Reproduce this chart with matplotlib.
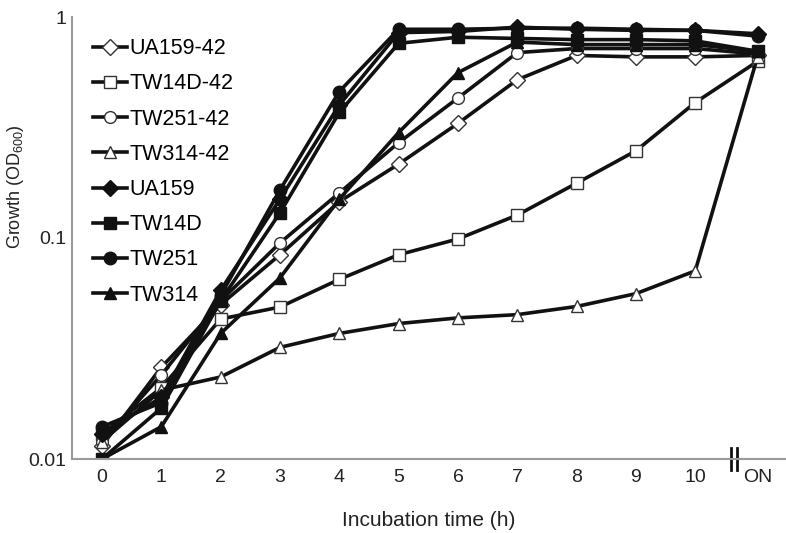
import numpy as np
import matplotlib
matplotlib.use("Agg")
import matplotlib.pyplot as plt
import matplotlib.transforms as mtransforms

plt.rcParams['font.family'] = ['Liberation Sans', 'DejaVu Sans']
plt.rcParams['mathtext.fontset'] = 'custom'
plt.rcParams['mathtext.rm'] = 'Liberation Sans'

# sampling times (h), last point is the overnight culture
x_labels = ['0', '1', '2', '3', '4', '5', '6', '7', '8', '9', '10', 'ON']

# OD600 readings
ua159_42 = [0.0115, 0.026, 0.050, 0.084, 0.146, 0.216, 0.33, 0.52, 0.67, 0.66, 0.66, 0.67]
tw14d_42 = [0.013, 0.021, 0.043, 0.0487, 0.065, 0.084, 0.099, 0.127, 0.177, 0.248, 0.41, 0.63]
tw251_42 = [0.012, 0.024, 0.052, 0.095, 0.16, 0.27, 0.43, 0.69, 0.72, 0.72, 0.72, 0.68]
tw314_42 = [0.012, 0.0205, 0.0235, 0.032, 0.037, 0.041, 0.0435, 0.045, 0.049, 0.056, 0.071, 0.66]
ua159 = [0.013, 0.019, 0.058, 0.15, 0.40, 0.85, 0.86, 0.90, 0.88, 0.87, 0.87, 0.84]
tw14d = [0.010, 0.017, 0.052, 0.13, 0.37, 0.76, 0.81, 0.80, 0.79, 0.79, 0.78, 0.70]
tw251 = [0.014, 0.018, 0.055, 0.165, 0.46, 0.88, 0.88, 0.89, 0.89, 0.88, 0.87, 0.82]
tw314 = [0.010, 0.014, 0.037, 0.066, 0.15, 0.30, 0.56, 0.77, 0.75, 0.75, 0.75, 0.70]

series = [
    ('UA159-42', ua159_42, 'D', 'white'),
    ('TW14D-42', tw14d_42, 's', 'white'),
    ('TW251-42', tw251_42, 'o', 'white'),
    ('TW314-42', tw314_42, '^', 'white'),
    ('UA159', ua159, 'D', 'black'),
    ('TW14D', tw14d, 's', 'black'),
    ('TW251', tw251, 'o', 'black'),
    ('TW314', tw314, '^', 'black'),
]

# x positions: hours 0-10, ON placed a little past 11 after the axis break
on_pos = 11.05
xpos = list(range(11)) + [on_pos]

fig = plt.figure(figsize=(7.86, 5.33), dpi=100)
ax = fig.add_axes([72 / 786, 74 / 533, 714 / 786, 442 / 533])

for name, vals, mk, face in series:
    ms = 8 if mk == 'D' else 8.5
    if face == 'white':
        ax.plot(xpos, vals, color='#111111', lw=2.6, marker=mk, ms=ms,
                mfc='white', mec='#333333', mew=1.0, label=name)
    else:
        ax.plot(xpos, vals, color='#111111', lw=2.6, marker=mk, ms=ms + 0.5,
                mfc='#111111', mec='#111111', mew=1.0, label=name)

ax.set_yscale('log')
ax.set_ylim(0.01, 1)
ax.set_xlim(-0.506, 11.53)
ax.set_yticks([0.01, 0.1, 1])
ax.set_yticklabels(['0.01', '0.1', '1'])
ax.minorticks_off()
ax.set_xticks(xpos)
ax.set_xticklabels(x_labels)
ax.tick_params(axis='both', length=0, labelsize=14, colors='#222222')
ax.tick_params(axis='x', pad=7)
ax.tick_params(axis='y', pad=4)

for s in ['top', 'right']:
    ax.spines[s].set_visible(False)
for s in ['left', 'bottom']:
    ax.spines[s].set_color('#999999')
    ax.spines[s].set_linewidth(1.5)

# axis break marks
trans = mtransforms.blended_transform_factory(ax.transData, ax.transAxes)
for xb in [10.6, 10.7]:
    ax.plot([xb, xb], [-0.025, 0.025], color='#111111', lw=2, transform=trans, clip_on=False)

ax.set_xlabel('Incubation time (h)', fontsize=15, color='#222222')
ax.xaxis.set_label_coords(0.5, -0.118)
ax.set_ylabel('Growth (OD$_{600}$)', fontsize=13, color='#222222')
ax.yaxis.set_label_coords(-0.064, 0.615)

ax.legend(loc='upper left', bbox_to_anchor=(0.029, 0.952), frameon=False,
          fontsize=15.5, handlelength=1.6, handletextpad=0.1,
          labelspacing=0.66, borderaxespad=0, borderpad=0)

fig.savefig('out.png', dpi=100)
